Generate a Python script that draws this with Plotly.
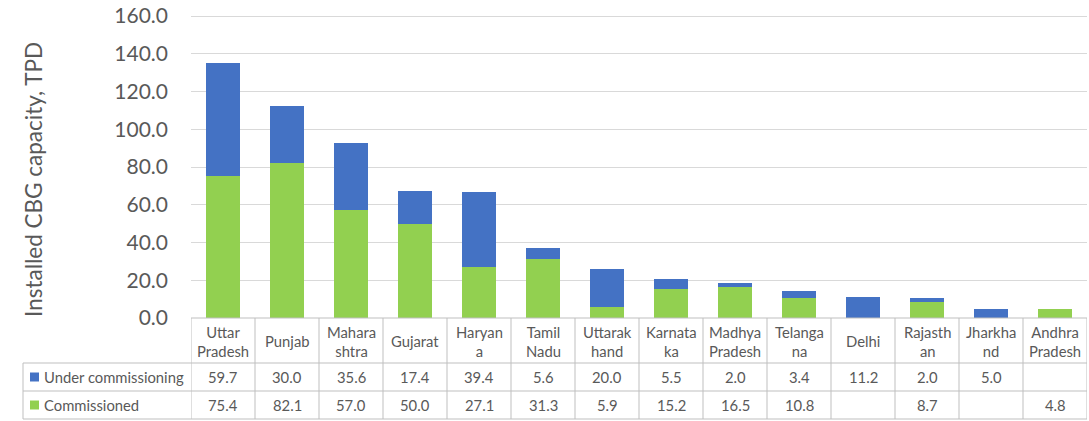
import plotly.graph_objects as go

states = ["Uttar Pradesh", "Punjab", "Maharashtra", "Gujarat", "Haryana", "Tamil Nadu",
          "Uttarakhand", "Karnataka", "Madhya Pradesh", "Telangana", "Delhi", "Rajasthan",
          "Jharkhand", "Andhra Pradesh"]
header_labels = ["Uttar<br>Pradesh", "Punjab", "Mahara<br>shtra", "Gujarat", "Haryan<br>a",
                 "Tamil<br>Nadu", "Uttarak<br>hand", "Karnata<br>ka", "Madhya<br>Pradesh",
                 "Telanga<br>na", "Delhi", "Rajasth<br>an", "Jharkha<br>nd", "Andhra<br>Pradesh"]
under_commissioning = [59.7, 30.0, 35.6, 17.4, 39.4, 5.6, 20.0, 5.5, 2.0, 3.4, 11.2, 2.0, 5.0, None]
commissioned = [75.4, 82.1, 57.0, 50.0, 27.1, 31.3, 5.9, 15.2, 16.5, 10.8, None, 8.7, None, 4.8]
series_names = ["Under commissioning", "Commissioned"]
y_ticks = [0, 20, 40, 60, 80, 100, 120, 140, 160]

BLUE = "#4472C4"
GREEN = "#92D050"
TXT = "#595959"
GRID = "#d9d9d9"
TLINE = "#bfbfbf"
FONT = "Lato, Open Sans, sans-serif"

W, H = 1089, 421
px = lambda v: v / W
py = lambda v: (H - v) / H

# y scale: 0 at y=318px, 160 at y=16px; extend range slightly so the top grid line is kept
Y_MAX = 161
unit = (318 - 16) / 160.0
x0, x1 = px(191), px(1087)
y_bottom, y_top = py(318), py(318 - Y_MAX * unit)

fig = go.Figure()
fig.add_trace(go.Bar(x=states, y=commissioned, name="Commissioned",
                     marker=dict(color=GREEN, line=dict(width=0))))
fig.add_trace(go.Bar(x=states, y=under_commissioning, name="Under commissioning",
                     marker=dict(color=BLUE, line=dict(width=0))))

fmt = lambda v: "" if v is None else f"{v:.1f}"
n = len(states)
line = dict(color=TLINE, width=1)

# data table grid
for yy, xs in [(318, 191), (363, 23), (391, 23), (419, 23)]:
    fig.add_shape(type="line", xref="paper", yref="paper", x0=px(xs), x1=x1,
                  y0=py(yy), y1=py(yy), line=line)
fig.add_shape(type="line", xref="paper", yref="paper", x0=px(23), x1=px(23),
              y0=py(363), y1=py(419), line=line)
for i in range(n + 1):
    fig.add_shape(type="line", xref="x", yref="paper", x0=i - 0.5, x1=i - 0.5,
                  y0=py(318), y1=py(419), line=line)

tfont = dict(family=FONT, size=14.8, color=TXT)
row_y = [py(377), py(405)]
for s, lab, u, c in zip(states, header_labels, under_commissioning, commissioned):
    fig.add_annotation(x=s, y=py(341), xref="x", yref="paper", text=lab,
                       xanchor="center", yanchor="middle",
                       showarrow=False, font=tfont, align="center")
    for val, ry in zip([u, c], row_y):
        fig.add_annotation(x=s, y=ry, xref="x", yref="paper", text=fmt(val),
                           xanchor="center", yanchor="middle",
                           showarrow=False, font=tfont)

for name, col, ry, cy in zip(series_names, [BLUE, GREEN], row_y, [377, 405]):
    fig.add_shape(type="rect", xref="paper", yref="paper", x0=px(30), x1=px(39),
                  y0=py(cy - 4.5), y1=py(cy + 4.5), fillcolor=col, line=dict(width=0))
    fig.add_annotation(x=px(42), y=ry, xref="paper", yref="paper", text=name,
                       xanchor="left", yanchor="middle", showarrow=False, font=tfont)

fig.add_annotation(text="Installed CBG capacity, TPD", x=px(33), y=py(180),
                   xref="paper", yref="paper", showarrow=False, textangle=-90,
                   xanchor="center", yanchor="middle",
                   font=dict(family=FONT, size=22.5, color=TXT))

fig.update_layout(
    width=W, height=H,
    barmode="stack", bargap=0.48,
    showlegend=False,
    paper_bgcolor="white", plot_bgcolor="white",
    margin=dict(l=0, r=0, t=0, b=0),
    xaxis=dict(domain=[x0, x1], showticklabels=False, showgrid=False,
               showline=False, zeroline=False, ticks="", automargin=False,
               range=[-0.5, n - 0.5], fixedrange=True),
    yaxis=dict(domain=[y_bottom, y_top], range=[0, Y_MAX], tickvals=y_ticks,
               tickformat=".1f", showgrid=True, gridcolor=GRID, gridwidth=1,
               zeroline=False, showline=False, ticks="", automargin=False,
               ticklabelstandoff=22, ticklabeloverflow="allow",
               tickfont=dict(family=FONT, size=21, color=TXT)),
    font=dict(family=FONT, color=TXT),
)

fig.write_html("out.html", config={"displayModeBar": False},
               post_script="document.body.style.margin='0';")
